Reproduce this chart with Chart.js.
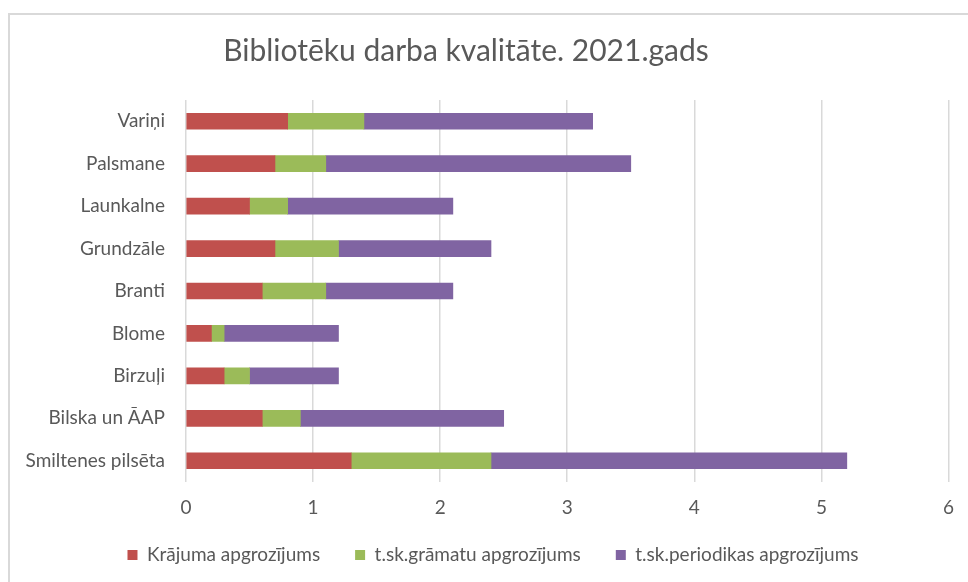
<!DOCTYPE html>
<html>
<head>
<meta charset="utf-8">
<script src="https://cdn.jsdelivr.net/npm/chart.js@4.4.1/dist/chart.umd.min.js"></script>
<style>
  html, body { margin: 0; padding: 0; background: #fff; }
  #wrap { position: relative; width: 968px; height: 582px; overflow: hidden; }
  #frame { position: absolute; left: 8px; top: 13px; width: 1000px; height: 600px;
           border-left: 2px solid #d9d9d9; border-top: 2px solid #d9d9d9; }
  canvas { position: absolute; left: 0; top: 0; }
</style>
</head>
<body>
<div id="wrap">
  <div id="frame"></div>
  <canvas id="chart" width="968" height="582"></canvas>
</div>
<script>
// bibliotēkas (no augšas uz leju)
var libraries = ["Variņi", "Palsmane", "Launkalne", "Grundzāle", "Branti", "Blome", "Birzuļi", "Bilska un ĀAP", "Smiltenes pilsēta"];

var krajumaApgr = [0.8, 0.7, 0.5, 0.7, 0.6, 0.2, 0.3, 0.6, 1.3];
var gramatuApgr = [0.6, 0.4, 0.3, 0.5, 0.5, 0.1, 0.2, 0.3, 1.1];
var periodikasApgr = [1.8, 2.4, 1.3, 1.2, 1.0, 0.9, 0.7, 1.6, 2.8];

var xTicks = [0, 1, 2, 3, 4, 5, 6];

var chartTitle = 'Bibliotēku darba kvalitāte. 2021.gads';

var textColor = '#595959';
var fontFamily = 'Lato, "Open Sans", sans-serif';

/* ======= Title (a bit left of centre, like the original) ======= */
var titlePlugin = {
    id: 'leftTitle',
    afterDraw: function(chart) {
        var c = chart.ctx;
        c.save();
        c.fillStyle = textColor;
        c.font = '30px ' + fontFamily;
        c.textAlign = 'center';
        c.textBaseline = 'middle';
        c.fillText(chartTitle, 466, 51);
        c.restore();
    }
};

/* ======= Legend: wide gaps between items but sitting close to the axis ======= */
var legendShift = {
    id: 'legendShift',
    afterLayout: function(chart) {
        var lg = chart.legend;
        lg.top = 510.5;
        lg.bottom = 582;
        lg.height = lg.bottom - lg.top;
        lg.left += 13;
        lg.right += 13;
    }
};

/* ======= Chart ======= */
var ctx = document.getElementById("chart");

var chart = new Chart(ctx, {
    type: 'bar',
    data: {
        labels: libraries,
        datasets: [{
            label: "Krājuma apgrozījums",
            data: krajumaApgr,
            backgroundColor: '#C0504D'
        },
        {
            label: "t.sk.grāmatu apgrozījums",
            data: gramatuApgr,
            backgroundColor: '#9BBB59'
        },
        {
            label: "t.sk.periodikas apgrozījums",
            data: periodikasApgr,
            backgroundColor: '#8064A2'
        }]
    },
    plugins: [titlePlugin, legendShift],
    options: {
        indexAxis: 'y',
        responsive: false,
        animation: false,
        layout: { padding: { left: 10, right: 18, top: 100, bottom: 0 } },
        datasets: { bar: { barThickness: 16 } },
        scales: {
            x: {
                stacked: true,
                min: 0,
                max: 6,
                afterBuildTicks: function(axis) {
                    axis.ticks = xTicks.map(function(v) { return { value: v }; });
                },
                grid: { color: '#d9d9d9', lineWidth: 1.5, drawTicks: false },
                border: { display: false },
                ticks: { color: textColor, padding: 14, font: { family: fontFamily, size: 19 } },
                afterFit: function(axis) { axis.height = 40; }
            },
            y: {
                stacked: true,
                grid: { display: false },
                border: { display: false },
                ticks: { color: textColor, padding: 13, font: { family: fontFamily, size: 19 } },
                afterFit: function(axis) { axis.width = 176; }
            }
        },
        plugins: {
            title: { display: false },
            legend: {
                position: 'bottom',
                maxHeight: 60,
                labels: {
                    color: textColor,
                    boxWidth: 10,
                    boxHeight: 10,
                    padding: 35,
                    font: { family: fontFamily, size: 19 }
                }
            },
            tooltip: { enabled: false }
        }
    }
});
</script>
</body>
</html>
